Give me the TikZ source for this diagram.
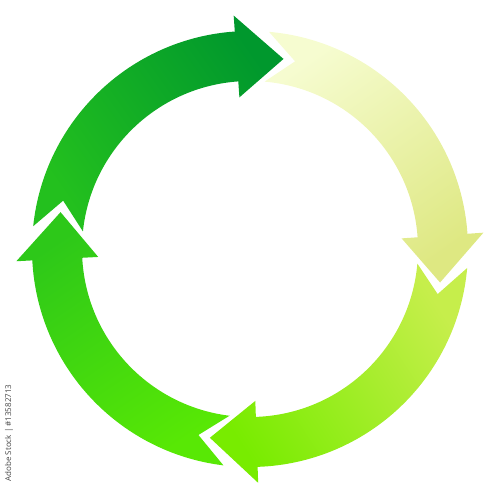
\documentclass[tikz,border=0pt]{standalone}
\usepackage{fontspec}
\newfontfamily\stockfont{Open Sans}
\definecolor{topTail}{RGB}{35,192,30}
\definecolor{topHead}{RGB}{0,152,45}
\definecolor{rightTail}{RGB}{246,252,208}
\definecolor{rightHead}{RGB}{222,232,130}
\definecolor{bottomTail}{RGB}{198,238,75}
\definecolor{bottomHead}{RGB}{120,236,0}
\definecolor{leftTail}{RGB}{88,232,5}
\definecolor{leftHead}{RGB}{45,200,25}
\definecolor{stockGray}{RGB}{70,70,70}
\begin{document}
\begin{tikzpicture}[x=1pt, y=1pt, stamp/.style={font=\stockfont\fontsize{8}{9}\selectfont, text=stockGray, rotate=90, inner sep=0pt}]
  \useasboundingbox (0,0) rectangle (497,500);
  \begin{scope}[shift={(250,251)}]
    % tip angle / tail angle / colours
    \foreach \t/\p/\ca/\cb in {80/169/topTail/topHead,-10/80/rightTail/rightHead,-102/-10/bottomTail/bottomHead,169/258/leftTail/leftHead}
      \shade[bottom color=\ca, top color=\cb, shading angle=\t-135]
        (\t:193) -- (\t+14:234) -- (\t+14:218)
        arc[start angle=\t+14, end angle=\p+5, radius=218]
        -- (\p-3.5:193) -- (\p+5:168)
        arc[start angle=\p+5, end angle=\t+14, radius=168]
        -- (\t+14:152) -- cycle;
  \end{scope}
  \node[stamp] (stamp) at (9,67) {Adobe Stock | \#13582713};
\end{tikzpicture}
\end{document}
